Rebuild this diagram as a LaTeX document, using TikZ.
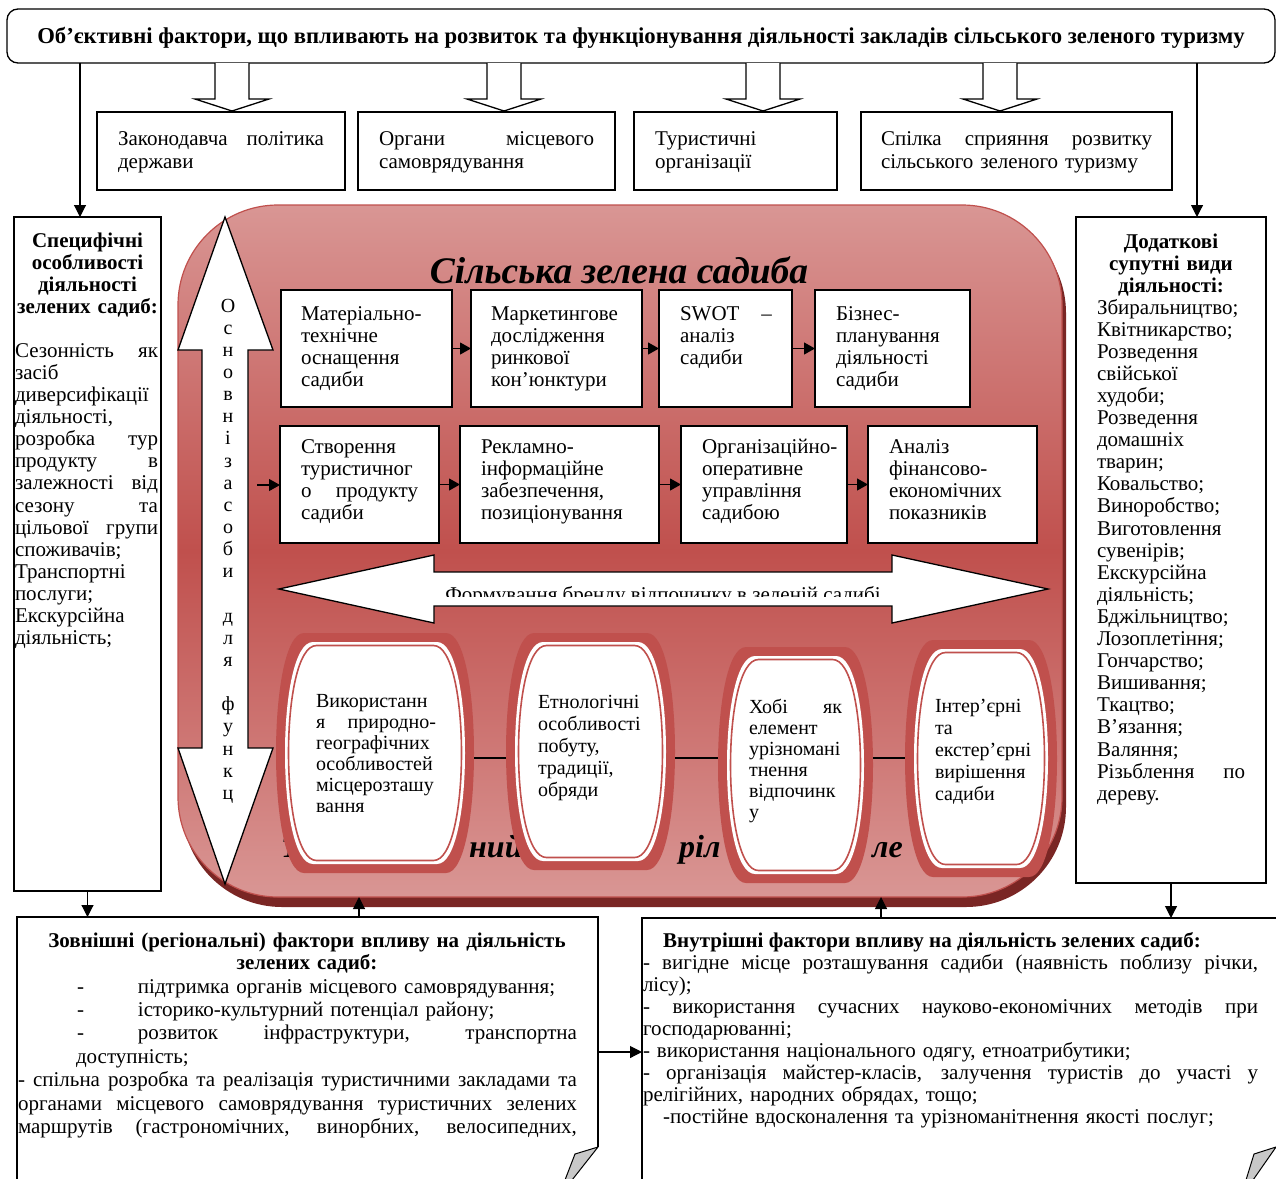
\documentclass[tikz,border=0pt]{standalone}
\usepackage{fontspec}
\setmainfont{Liberation Serif}
\usetikzlibrary{arrows.meta}
\definecolor{rd}{HTML}{C0504D}
\definecolor{rdl}{HTML}{D99694}
\definecolor{rdd}{HTML}{7A2624}
\definecolor{curlgray}{HTML}{C8C8C8}
\newcommand\jl[2]{\leavevmode\hbox to #1{\spaceskip=0.25em plus 1fil\relax #2}}
\newcommand\downblock[1]{\draw[hollow] ({#1-17},63) -- ({#1-17},99) -- ({#1-37},99) -- ({#1},111) -- ({#1+37},99) -- ({#1+17},99) -- ({#1+17},63);}
\newcommand\pillshape[6]{%
  \path[#6] ({#1+#5},{#2}) -- ({#3-#5},{#2}) .. controls ({#3+#5/3},{#2}) and ({#3+#5/3},{#4}) .. ({#3-#5},{#4}) -- ({#1+#5},{#4}) .. controls ({#1-#5/3},{#4}) and ({#1-#5/3},{#2}) .. ({#1+#5},{#2}) -- cycle;}
\newcommand\pill[5]{%
  \pillshape{#1}{#2}{#3}{#4}{#5}{fill=rd}
  \pillshape{#1+9}{#2+9}{#3-9}{#4-9}{#5}{fill=white}
  \pillshape{#1+12.5}{#2+12.5}{#3-12.5}{#4-12.5}{#5}{draw=rd,line width=1.6pt}}
\begin{document}
\begin{tikzpicture}[x=1pt,y=-1pt,
  box/.style={draw,line width=1.3pt,fill=white,inner sep=0pt,outer sep=0pt,anchor=north west},
  txt/.style={inner sep=0pt,outer sep=0pt,anchor=base west,align=left,font=\fontsize{21}{22}\selectfont},
  btxt/.style={inner sep=0pt,outer sep=0pt,anchor=base,align=center,font=\bfseries\fontsize{21}{22}\selectfont},
  otxt/.style={inner sep=0pt,outer sep=0pt,anchor=base west,align=left,font=\fontsize{20}{21}\selectfont},
  arr/.style={line width=1.1pt,-{Triangle[length=12pt,width=12pt]}},
  sarr/.style={line width=1.1pt,-{Triangle[length=11pt,width=12pt]}},
  hollow/.style={draw,line width=1.3pt,fill=white,line join=miter},
  ghost/.style={inner sep=0pt,outer sep=0pt,anchor=north west},
]
\clip (0,0) rectangle (1276,1178);
\fill[white] (0,0) rectangle (1276,1178);

% ---------- banner ----------
\node[box,rounded corners=11pt,minimum width=1268pt,minimum height=54pt] (banner) at (7,9) {};
\node[inner sep=0pt,anchor=base,font=\bfseries\fontsize{22.7}{24}\selectfont] (bannertext) at (641,43) {Об’єктивні фактори, що впливають на розвиток та функціонування діяльності закладів сільського зеленого туризму};

% hollow arrows
\downblock{232}
\downblock{504}
\downblock{763}
\downblock{1000}

% ---------- top boxes ----------
\node[box,minimum width=248pt,minimum height=78pt] (tb1) at (97,112) {};
\node[box,minimum width=257pt,minimum height=78pt] (tb2) at (358,112) {};
\node[box,minimum width=203pt,minimum height=78pt] (tb3) at (634,112) {};
\node[box,minimum width=311pt,minimum height=78pt] (tb4) at (861,112) {};
\node[txt,text width=206pt,font=\fontsize{21}{23}\selectfont] (tt1) at (118,145) {\jl{206pt}{Законодавча політика}\\держави};
\node[txt,text width=215pt,font=\fontsize{21}{23}\selectfont] (tt2) at (379,145) {\jl{215pt}{Органи місцевого}\\самоврядування};
\node[txt,text width=170pt,font=\fontsize{21}{23}\selectfont] (tt3) at (655,145) {Туристичні\\організації};
\node[txt,text width=271pt,font=\fontsize{21}{23}\selectfont] (tt4) at (881,145) {\jl{271pt}{Спілка сприяння розвитку}\\сільського зеленого туризму};

% ---------- side columns ----------
\node[box,minimum width=147pt,minimum height=674pt] (lcol) at (14,217) {};
\node[btxt,text width=147pt,font=\bfseries\fontsize{21}{22}\selectfont] (lcoltitle) at (lcol.north |- 0,247) {Специфічні\\особливості\\діяльності\\зелених садиб:};
\node[txt,text width=143pt,font=\fontsize{21}{22.15}\selectfont] (lcolbody) at (15,357) {\jl{143pt}{Сезонність як}\\засіб\\диверсифікації\\діяльності,\\\jl{143pt}{розробка тур}\\\jl{143pt}{продукту в}\\\jl{143pt}{залежності від}\\\jl{143pt}{сезону та}\\\jl{143pt}{цільової групи}\\споживачів;\\Транспортні\\послуги;\\Екскурсійна\\діяльність;};

\node[box,minimum width=190pt,minimum height=666pt] (rcol) at (1076,217) {};
\node[btxt,text width=190pt,font=\bfseries\fontsize{21}{22.1}\selectfont] (rcoltitle) at (rcol.north |- 0,248) {Додаткові\\супутні види\\діяльності:};
\node[txt,text width=148pt,font=\fontsize{21}{22.1}\selectfont] (rcolbody) at (1097,314) {Збиральництво;\\Квітникарство;\\Розведення\\свійської\\худоби;\\Розведення\\домашніх\\тварин;\\Ковальство;\\Виноробство;\\Виготовлення\\сувенірів;\\Екскурсійна\\діяльність;\\Бджільництво;\\Лозоплетіння;\\Гончарство;\\Вишивання;\\Ткацтво;\\В’язання;\\Валяння;\\\jl{148pt}{Різьблення по}\\дереву.};

\coordinate (lA) at (80,63);
\coordinate (rA) at (1197,63);
\draw[arr] (lA) -- (lA |- lcol.north);
\draw[arr] (rA) -- (rA |- rcol.north);

% ---------- big farmstead shape ----------
\fill[rdd,rounded corners=100pt] (182,213) rectangle (1066,907);
\path[rounded corners=100pt,top color=rdl,bottom color=rdl,middle color=rd,draw=rd,line width=1.2pt] (178,205) rectangle (1062,897);
\node[ghost,minimum width=884pt,minimum height=692pt] (farm) at (178,205) {};
\node[inner sep=0pt,anchor=base,font=\bfseries\itshape\fontsize{37.5}{40}\selectfont] (farmtitle) at (619,283) {Сільська зелена садиба};

% hidden text fragments behind the ovals
\node[inner sep=0pt,anchor=base west,font=\bfseries\itshape\fontsize{32}{32}\selectfont] (hid1) at (281,857) {Т};
\node[inner sep=0pt,anchor=base west,font=\bfseries\itshape\fontsize{32}{32}\selectfont] (hid2) at (469,857) {ний};
\node[inner sep=0pt,anchor=base west,font=\bfseries\itshape\fontsize{32}{32}\selectfont] (hid3) at (679,857) {ріл};
\node[inner sep=0pt,anchor=base west,font=\bfseries\itshape\fontsize{32}{32}\selectfont] (hid4) at (872,857) {ле};

% row 1
\node[box,minimum width=171pt,minimum height=117pt] (B1) at (281,290) {};
\node[box,minimum width=171pt,minimum height=117pt] (B2) at (471,290) {};
\node[box,minimum width=133pt,minimum height=117pt] (B3) at (659,290) {};
\node[box,minimum width=155pt,minimum height=117pt] (B4) at (815,290) {};
\node[txt,text width=145pt] (B1t) at (301,320) {Матеріально-\\технічне\\оснащення\\садиби};
\node[txt,text width=145pt] (B2t) at (491,320) {Маркетингове\\дослідження\\ринкової\\кон’юнктури};
\node[txt,text width=92pt] (B3t) at (680,320) {\jl{92pt}{SWOT –}\\аналіз\\садиби};
\node[txt,text width=125pt] (B4t) at (836,320) {Бізнес-\\планування\\діяльності\\садиби};
\draw[sarr] (B1.east) -- (B2.west);
\draw[sarr] (B2.east) -- (B3.west);
\draw[sarr] (B3.east) -- (B4.west);

% row 2
\node[box,minimum width=159pt,minimum height=117pt] (C1) at (280,426) {};
\node[box,minimum width=199pt,minimum height=117pt] (C2) at (460,426) {};
\node[box,minimum width=166pt,minimum height=117pt] (C3) at (681,426) {};
\node[box,minimum width=169pt,minimum height=117pt] (C4) at (868,426) {};
\node[txt,text width=117pt] (C1t) at (301,453) {Створення\\туристичног\\\jl{117pt}{о продукту}\\садиби};
\node[txt,text width=175pt] (C2t) at (481,453) {Рекламно-\\інформаційне\\забезпечення,\\позиціонування};
\node[txt,text width=145pt] (C3t) at (702,453) {Організаційно-\\оперативне\\управління\\садибою};
\node[txt,text width=145pt] (C4t) at (889,453) {Аналіз\\фінансово-\\економічних\\показників};
\draw[sarr] (C1.east) -- (C2.west);
\draw[sarr] (C2.east) -- (C3.west);
\draw[sarr] (C3.east) -- (C4.west);
\coordinate (cin) at (257,485);
\draw[sarr] (cin) -- (cin -| C1.west);

% horizontal double arrow
\draw[hollow] (279,589) -- (434,555) -- (434,572) -- (892,572) -- (892,555) -- (1048,589) -- (892,623) -- (892,606) -- (434,606) -- (434,623) -- cycle;
\begin{scope}
\clip (434,574) rectangle (892,596.5);
\node[inner sep=0pt,anchor=base,font=\fontsize{21}{22}\selectfont] (brand) at (663,601) {Формування бренду відпочинку в зеленій садибі};
\end{scope}

% ovals
\pill{276}{633}{474}{873}{28}
\pill{506}{633}{675}{870}{28}
\pill{718}{647}{873}{883}{28}
\pill{905}{640}{1057}{877}{28}
\node[ghost,minimum width=198pt,minimum height=240pt] (o1) at (276,633) {};
\node[ghost,minimum width=169pt,minimum height=237pt] (o2) at (506,633) {};
\node[ghost,minimum width=155pt,minimum height=236pt] (o3) at (718,647) {};
\node[ghost,minimum width=152pt,minimum height=237pt] (o4) at (905,640) {};
\node[otxt,text width=120pt] (o1t) at (316,707) {Використанн\\\jl{120pt}{я природно-}\\географічних\\особливостей\\місцерозташу\\вання};
\node[otxt,text width=115pt,font=\fontsize{20}{22}\selectfont] (o2t) at (538,708) {Етнологічні\\особливості\\побуту,\\традиції,\\обряди};
\node[otxt,text width=93pt] (o3t) at (749,713) {\jl{93pt}{Хобі як}\\елемент\\урізномані\\тнення\\відпочинк\\у};
\node[otxt,text width=110pt,font=\fontsize{20}{22}\selectfont] (o4t) at (935,712) {Інтер’єрні\\та\\екстер’єрні\\вирішення\\садиби};
\coordinate (ol) at (0,758);
\draw[line width=1.3pt] (o1.east |- ol) -- (o2.west |- ol);
\draw[line width=1.3pt] (o2.east |- ol) -- (o3.west |- ol);
\draw[line width=1.3pt] (o3.east |- ol) -- (o4.west |- ol);

% vertical double arrow
\draw[hollow] (225,217) -- (273,350) -- (248,350) -- (248,748) -- (273,748) -- (225,884) -- (178,748) -- (202,748) -- (202,350) -- (178,350) -- cycle;
\node[inner sep=0pt,anchor=base,align=center,text width=20pt,font=\fontsize{20}{22.15}\selectfont] (vtext) at (228,312) {О\\с\\н\\о\\в\\н\\і\\з\\а\\с\\о\\б\\и\\[22.15pt]д\\л\\я\\[22.15pt]ф\\у\\н\\к\\ц};

% ---------- bottom boxes ----------
\node[box,draw=none,minimum width=581pt,minimum height=300pt] (bl) at (17,917) {};
\draw[line width=1.3pt] (17,1190) -- (17,917) -- (598,917) -- (598,1147);
\filldraw[fill=curlgray,line width=1pt,line join=round] (598,1147) -- (575,1154) -- (565,1180) -- (572,1180) -- cycle;
\node[btxt,text width=560pt,font=\bfseries\fontsize{21}{22}\selectfont] (bltitle) at (307,947) {Зовнішні (регіональні) фактори впливу на діяльність\\зелених садиб:};
\node[txt,text width=559pt,font=\fontsize{21}{23.4}\selectfont] (blbody) at (18,993) {\hspace*{59pt}\makebox[61pt][l]{-}підтримка органів місцевого самоврядування;\\
\hspace*{59pt}\makebox[61pt][l]{-}історико-культурний потенціал району;\\
\hspace*{59pt}\makebox[61pt][l]{-}\jl{439pt}{розвиток інфраструктури, транспортна}\\
\hspace*{58pt}доступність;\\
\jl{559pt}{- спільна розробка та реалізація туристичними закладами та}\\
\jl{559pt}{органами місцевого самоврядування туристичних зелених}\\
\jl{559pt}{маршрутів (гастрономічних, винорбних, велосипедних,}};

\node[box,draw=none,minimum width=650pt,minimum height=300pt] (br) at (642,918) {};
\draw[line width=1.3pt] (642,1190) -- (642,918) -- (1290,918);
\filldraw[fill=curlgray,line width=1pt,line join=round] (1276,1147) -- (1254,1154) -- (1246,1180) -- (1253,1180) -- cycle;
\node[inner sep=0pt,anchor=base west,font=\bfseries\fontsize{21}{22}\selectfont] (brtitle) at (663,947) {Внутрішні фактори впливу на діяльність зелених садиб:};
\node[txt,text width=615pt,font=\fontsize{21}{22}\selectfont] (brbody) at (643,969) {\jl{615pt}{- вигідне місце розташування садиби (наявність поблизу річки,}\\
лісу);\\
\jl{615pt}{- використання сучасних науково-економічних методів при}\\
господарюванні;\\
- використання національного одягу, етноатрибутики;\\
\jl{615pt}{- організація майстер-класів, залучення туристів до участі у}\\
релігійних, народних обрядах, тощо;\\
\hspace*{20pt}-постійне вдосконалення та урізноманітнення якості послуг;};

% ---------- connectors among bottom parts ----------
\draw[arr] (lcol.south) -- (lcol.south |- bl.north);
\draw[arr] (rcol.south) -- (rcol.south |- br.north);
\coordinate (upL) at (359,0);
\coordinate (upR) at (881,0);
\draw[arr] (upL |- bl.north) -- (upL |- farm.south);
\draw[arr] (upR |- br.north) -- (upR |- farm.south);
\coordinate (mid) at (0,1052);
\draw[arr] (bl.east |- mid) -- (br.west |- mid);
\end{tikzpicture}
\end{document}
